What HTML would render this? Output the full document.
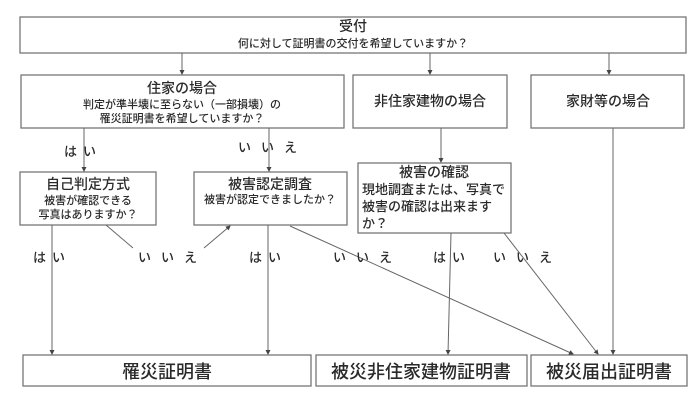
<!DOCTYPE html>
<html><head><meta charset="utf-8"><style>
html,body{margin:0;padding:0;background:#fff;}
svg{display:block;}
text{font-family:"Liberation Sans","Noto Sans CJK JP",sans-serif;fill:#2a2a2a;font-weight:500;}
.b{fill:#fff;stroke:#777;stroke-width:1.3;}
.l{stroke:#666;stroke-width:1;fill:none;}
</style></head><body>
<svg width="694" height="400" viewBox="0 0 694 400" xmlns="http://www.w3.org/2000/svg">
<defs><marker id="a" markerWidth="5" markerHeight="5" refX="4" refY="2.5" orient="auto"><path d="M0,0 L5,2.5 L0,5 z" fill="#444"/></marker></defs>
<rect class="b" x="20" y="17" width="666" height="36"/>
<text x="353" y="31" font-size="14" text-anchor="middle">受付</text>
<text x="353" y="47" font-size="11" text-anchor="middle">何に対して証明書の交付を希望していますか？</text>

<rect class="b" x="21" y="75" width="323" height="53"/>
<text x="182" y="93" font-size="14" text-anchor="middle">住家の場合</text>
<text x="182" y="108" font-size="11" text-anchor="middle">判定が準半壊に至らない（一部損壊）の</text>
<text x="182" y="122" font-size="11" text-anchor="middle">罹災証明書を希望していますか？</text>

<rect class="b" x="353" y="75" width="154" height="53"/>
<text x="430" y="106" font-size="14" text-anchor="middle">非住家建物の場合</text>
<rect class="b" x="531" y="75" width="153" height="53"/>
<text x="608" y="106" font-size="14" text-anchor="middle">家財等の場合</text>

<rect class="b" x="20" y="172" width="136" height="53"/>
<text x="88" y="189" font-size="14" text-anchor="middle">自己判定方式</text>
<text x="88" y="204" font-size="11" text-anchor="middle">被害が確認できる</text>
<text x="88" y="218" font-size="11" text-anchor="middle">写真はありますか？</text>

<rect class="b" x="194" y="172" width="153" height="53"/>
<text x="270" y="189" font-size="14" text-anchor="middle">被害認定調査</text>
<text x="270" y="203" font-size="11" text-anchor="middle">被害が認定できましたか？</text>

<rect class="b" x="358" y="163" width="153" height="70"/>
<text x="434" y="177" font-size="14" text-anchor="middle">被害の確認</text>
<text x="362" y="194" font-size="13">現地調査または、写真で</text>
<text x="362" y="211" font-size="13">被害の確認は出来ます</text>
<text x="362" y="228" font-size="13">か？</text>

<rect class="b" x="23" y="355" width="288" height="31"/>
<text x="167" y="378" font-size="18" text-anchor="middle">罹災証明書</text>
<rect class="b" x="316" y="355" width="211" height="31"/>
<text x="421" y="378" font-size="18" text-anchor="middle">被災非住家建物証明書</text>
<rect class="b" x="531" y="355" width="156" height="31"/>
<text x="609" y="378" font-size="18" text-anchor="middle">被災届出証明書</text>

<line class="l" x1="182" y1="53" x2="182" y2="74" marker-end="url(#a)"/>
<line class="l" x1="430" y1="53" x2="430" y2="74" marker-end="url(#a)"/>
<line class="l" x1="609" y1="53" x2="609" y2="74" marker-end="url(#a)"/>
<line class="l" x1="84" y1="128" x2="84" y2="171" marker-end="url(#a)"/>
<line class="l" x1="269" y1="128" x2="269" y2="171" marker-end="url(#a)"/>
<line class="l" x1="441" y1="128" x2="441" y2="162" marker-end="url(#a)"/>
<line class="l" x1="613" y1="128" x2="613" y2="354" marker-end="url(#a)"/>
<line class="l" x1="52" y1="225" x2="52" y2="354" marker-end="url(#a)"/>
<line class="l" x1="106" y1="225" x2="133" y2="248"/>
<line class="l" x1="204" y1="248" x2="230" y2="226" marker-end="url(#a)"/>
<line class="l" x1="268" y1="225" x2="268" y2="354" marker-end="url(#a)"/>
<line class="l" x1="290" y1="226" x2="573" y2="354" marker-end="url(#a)"/>
<line class="l" x1="451" y1="233" x2="448" y2="354" marker-end="url(#a)"/>
<line class="l" x1="504" y1="233" x2="598" y2="354" marker-end="url(#a)"/>

<g font-size="13" letter-spacing="6">
<text x="64" y="156">はい</text>
<text x="238" y="152" letter-spacing="10">いいえ</text>
<text x="33" y="262">はい</text>
<text x="138" y="262" letter-spacing="10">いいえ</text>
<text x="249" y="262">はい</text>
<text x="333" y="262" letter-spacing="10">いいえ</text>
<text x="433" y="262">はい</text>
<text x="493" y="262" letter-spacing="10">いいえ</text>
</g>
</svg>
</body></html>
